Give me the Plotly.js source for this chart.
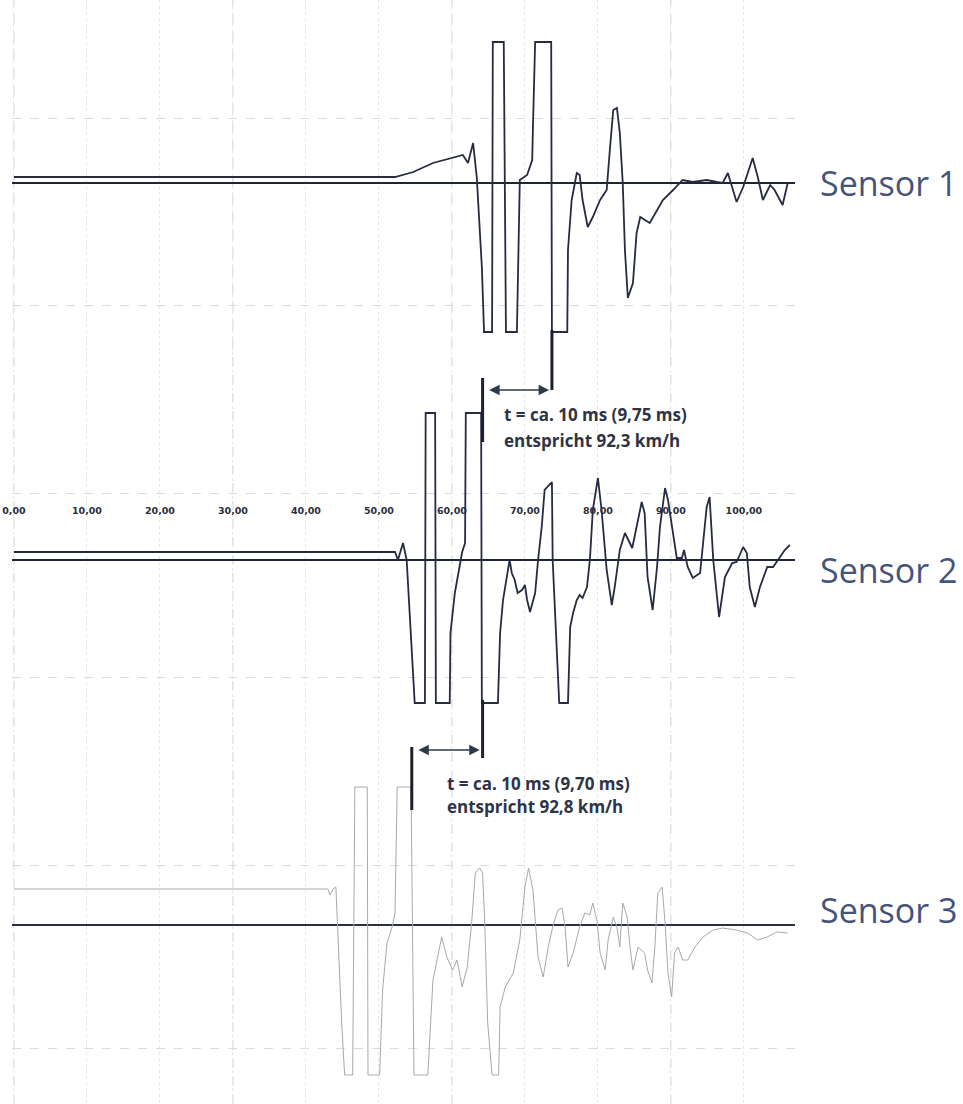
<!DOCTYPE html>
<html>
<head>
<meta charset="utf-8">
<script src="https://cdn.plot.ly/plotly-3.0.1.min.js"></script>
<style>html,body{margin:0;padding:0;background:#fff;}#chart{width:963px;height:1104px;}</style>
</head>
<body>
<div id="chart"></div>
<script>
// ---- data (time in ms, signal in arbitrary units) ----
const s1Time = [0,52.2,54.7,57.4,61.5,62.2,62.9,63.4,64.1,64.4,65.5,65.6,67.1,67.4,68.9,69.3,70.3,71.0,71.1,71.4,73.6,73.7,75.8,75.9,76.4,77.1,77.5,77.9,78.6,79.3,80.3,81.2,81.6,82.1,82.6,83.0,83.4,83.7,84.1,84.8,85.3,85.8,87.1,88.9,90.3,91.6,93.0,94.9,96.3,97.1,97.8,99.0,99.9,101.2,101.9,102.6,103.6,104.2,105.3,106.0];
const s1Value = [0.6,0.6,1.1,2.0,2.8,2.0,4.0,0.6,-8.4,-14.9,-14.9,14.1,14.1,-14.9,-14.9,0.3,0.8,2.3,5.6,14.1,14.1,-14.9,-14.9,-6.7,-1.7,1.0,0.8,-1.7,-4.4,-3.4,-1.7,-0.7,3.0,7.3,7.5,5.0,0,-6.7,-11.5,-10.0,-5.0,-3.4,-4.0,-1.7,-0.7,0.3,0.1,0.3,0.1,0,1.0,-1.9,-0.4,2.5,0.6,-1.7,-0.2,-0.7,-2.2,0];

const s2Time = [0,52.2,52.6,53.3,53.8,54.2,54.9,56.3,56.4,57.7,57.8,59.7,59.8,60.4,61.4,61.8,61.9,64.0,64.1,66.3,66.6,67.0,67.9,68.2,68.6,69.0,69.6,70.0,70.3,70.7,71.4,71.8,72.3,72.7,73.7,73.8,74.4,74.7,75.9,76.2,76.6,77.1,77.5,77.9,78.5,78.9,79.3,80.0,80.5,81.2,81.9,82.3,83.0,83.7,84.7,85.3,86.0,86.4,86.8,87.5,88.1,88.5,89.2,89.6,90.3,90.8,91.5,91.8,92.3,93.0,94.0,94.4,94.9,95.3,95.8,96.6,97.4,98.4,99.0,99.9,100.4,100.8,101.5,102.2,103.2,104.0,104.7,105.6,106.3];
const s2Value = [0.8,0.8,0,1.7,0,-5.3,-14.3,-14.3,14.7,14.7,-14.3,-14.3,-7.3,-3.3,0.8,1.7,14.7,14.7,-14.3,-14.3,-7.3,-4.0,0,-1.3,-2.0,-3.3,-3.0,-2.5,-4.0,-5.2,-3.3,0,3.3,7.0,7.8,0,-10.0,-14.3,-14.3,-6.7,-5.3,-4.0,-3.5,-3.8,-2.7,0,5.0,8.2,5.0,-1.0,-4.5,-2.7,1.0,2.7,1.2,3.3,5.8,4.7,-1.7,-5.0,-0.7,3.3,7.2,6.0,2.3,0.2,0.2,1.0,-0.7,-1.8,-1.3,1.7,5.3,6.3,0,-5.7,-1.7,-0.3,-0.2,1.3,0.7,-2.7,-4.7,-2.7,-0.7,-0.7,0,1.0,1.5];

const s3Time = [0,43.0,43.3,43.7,44.1,44.4,44.9,45.3,46.4,46.7,48.4,48.5,50.1,50.5,51.1,51.8,52.2,52.5,54.4,54.8,56.7,57.4,58.1,58.6,59.3,60.1,60.7,61.4,62.1,62.7,63.2,63.8,64.2,64.5,64.9,65.5,66.4,66.6,67.3,68.4,69.3,70.0,70.5,71.1,71.8,72.5,73.2,73.8,74.5,75.1,75.5,75.9,76.6,77.5,78.2,78.9,79.3,79.9,80.3,81.0,81.4,82.1,82.6,83.0,83.4,84.0,84.4,84.8,85.5,86.4,86.8,87.4,87.8,88.2,88.8,89.2,89.6,90.1,90.5,91.0,91.6,92.3,93.3,94.4,95.8,97.1,99.0,100.5,101.9,103.2,104.5,106.0];
const s3Value = [3.6,3.6,3.0,3.6,3.8,-1.5,-9.8,-15.0,-15.0,13.8,13.8,-15.0,-15.0,-6.5,-1.8,-0.2,1.2,13.8,13.8,-15.0,-15.0,-5.5,-2.8,-1.2,-3.2,-4.5,-3.5,-6.2,-4.2,0.2,5.2,5.7,5.2,0.2,-9.8,-15.0,-15.0,-8.2,-6.2,-4.8,-1.5,3.8,5.7,3.5,-3.2,-5.2,-2.2,-0.2,1.5,1.7,-0.2,-4.2,-2.8,-0.2,1.2,1.0,2.2,0.3,-2.8,-4.5,-1.5,0.8,-0.2,-2.2,2.2,0.8,-2.2,-4.5,-2.2,-2.8,-4.5,-5.8,-2.2,3.2,3.8,0.2,-4.8,-7.2,-2.8,-2.2,-3.5,-3.5,-2.2,-1.2,-0.5,-0.3,-0.5,-0.8,-1.5,-1.2,-0.7,-0.8];

const sensorNames = ['Sensor 1', 'Sensor 2', 'Sensor 3'];
const tickTimes = [0,10,20,30,40,50,60,70,80,90,100];
const tickLabels = tickTimes.map(v => v.toFixed(2).replace('.', ','));
const gridTimes = [0, 30, 60, 90];
const markerTimes = [73.7, 64.2, 54.5];          // edge markers S1, S2, S3
const intervalText = ['t = ca. 10 ms (9,75 ms)', 'entspricht 92,3 km/h',
                      't = ca. 10 ms (9,70 ms)', 'entspricht 92,8 km/h'];

// ---- helpers ----
const H = 1104;
const P = pix => 1 - pix / H;            // pixel row -> paper y
const dark = '#262b40';
const xRange = [-0.27, 107.0];

const traces = [
  {x: s1Time, y: s1Value, xaxis: 'x', yaxis: 'y', mode: 'lines', name: sensorNames[0],
   line: {color: dark, width: 1.8}},
  {x: s2Time, y: s2Value, xaxis: 'x2', yaxis: 'y2', mode: 'lines', name: sensorNames[1],
   line: {color: dark, width: 1.8}},
  {x: s3Time, y: s3Value, xaxis: 'x3', yaxis: 'y3', mode: 'lines', name: sensorNames[2],
   line: {color: '#a9a9a9', width: 1}}
];

const xBase = {
  range: xRange, showline: false, zeroline: false, ticks: '',
  tickmode: 'array', tickvals: tickTimes, ticktext: tickLabels,
  showgrid: true, gridcolor: '#e6e6e6', griddash: 'dot', gridwidth: 1,
  showticklabels: false
};
const yBase = {
  showticklabels: false, ticks: '', showline: false,
  zeroline: true, zerolinecolor: '#1f2436', zerolinewidth: 1.5,
  showgrid: true, gridcolor: '#dcdcdc', griddash: 'dash', gridwidth: 1,
  tickmode: 'array', fixedrange: true
};

const shapes = [];
gridTimes.forEach(t => shapes.push({
  type: 'line', xref: 'x', yref: 'paper', x0: t, x1: t, y0: 0, y1: 1, layer: 'below',
  line: {color: '#d2d2d2', width: 1, dash: 'dash'}
}));
const markerSegments = [[0, 330, 390], [1, 378, 442], [1, 700, 758], [2, 747, 810]];
markerSegments.forEach(([i, a, b]) => shapes.push({
  type: 'line', xref: 'x', yref: 'paper', x0: markerTimes[i], x1: markerTimes[i],
  y0: P(a), y1: P(b), line: {color: '#1b1f30', width: 3}
}));

const annotations = [];
// double arrows between markers
[[0, 1, 390], [1, 2, 750]].forEach(([a, b, row]) => annotations.push({
  xref: 'x', yref: 'paper', x: markerTimes[a] - 0.4, y: P(row),
  axref: 'x', ax: markerTimes[b] + 0.7, ayref: 'pixel', ay: 0,
  text: '', showarrow: true, arrowside: 'end+start', arrowhead: 2, arrowsize: 1.3,
  arrowwidth: 1.6, arrowcolor: '#2b3a4a', standoff: 0, startstandoff: 0
}));
// interval texts
const textFont = {family: 'Open Sans, sans-serif', size: 17, color: '#2e3446', weight: 'bold'};
[[0, 66.8, 415], [1, 66.8, 440], [2, 59.0, 783], [3, 59.0, 806]].forEach(([i, t, row]) =>
  annotations.push({xref: 'x', yref: 'paper', x: t, y: P(row), xanchor: 'left', yanchor: 'middle',
    text: intervalText[i], showarrow: false, font: textFont}));
// sensor labels
[[0, 183], [1, 570], [2, 910]].forEach(([i, row]) => annotations.push({
  xref: 'paper', yref: 'paper', x: 1.029, y: P(row), xanchor: 'left', yanchor: 'middle',
  text: sensorNames[i], showarrow: false,
  font: {family: 'Open Sans, sans-serif', size: 34, color: '#44547a'}
}));

const layout = {
  width: 963, height: 1104,
  margin: {l: 12, r: 168, t: 0, b: 0, pad: 0},
  paper_bgcolor: '#ffffff', plot_bgcolor: 'rgba(0,0,0,0)',
  showlegend: false,
  xaxis: Object.assign({}, xBase, {anchor: 'y'}),
  xaxis2: Object.assign({}, xBase, {anchor: 'free', position: P(503), showticklabels: true,
    tickfont: {family: 'DejaVu Sans, sans-serif', size: 9.5, color: '#2a2e3a', weight: 'bold'}}),
  xaxis3: Object.assign({}, xBase, {anchor: 'y3'}),
  yaxis: Object.assign({}, yBase, {domain: [P(352), 1], range: [-16.9, 18.3], tickvals: [6.5, -12.2]}),
  yaxis2: Object.assign({}, yBase, {domain: [P(740), P(352)], range: [-18.0, 20.8], tickvals: [6.7, -11.7]}),
  yaxis3: Object.assign({}, yBase, {domain: [0, P(740)], range: [-17.9, 18.5], tickvals: [6.0, -12.3],
    zerolinecolor: '#2a3045'}),
  shapes: shapes,
  annotations: annotations
};

Plotly.newPlot('chart', traces, layout, {displayModeBar: false, staticPlot: true});
</script>
</body>
</html>
